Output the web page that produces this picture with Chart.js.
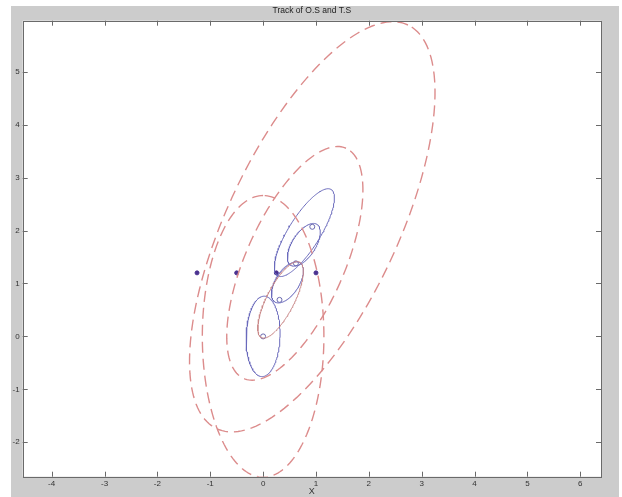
<!DOCTYPE html>
<html><head><meta charset="utf-8">
<script src="https://cdn.jsdelivr.net/npm/chart.js@4"></script>
<style>html,body{margin:0;padding:0;background:#fff}</style>
</head><body>
<canvas id="c" width="622" height="497"></canvas>
<script>
// ---- tick labels ----
const xTicks = [-4, -3, -2, -1, 0, 1, 2, 3, 4, 5, 6];
const yTicks = [-2, -1, 0, 1, 2, 3, 4, 5];

// ---- T.S track (circles) ----
const circleX = [0, 0.31, 0.62, 0.93];
const circleY = [0, 0.69, 1.38, 2.07];

// ---- O.S track (stars) ----
const starX = [-1.25, -0.5, 0.25, 1.0];
const starY = [1.2, 1.2, 1.2, 1.2];

// ---- blue solid ellipses: centre, semi-axes, tilt (deg) ----
const blueCx  = [0.00, 0.46, 0.77, 0.78];
const blueCy  = [0.00, 1.02, 1.73, 1.96];
const blueA   = [0.76, 0.44, 0.46, 0.96];
const blueB   = [0.32, 0.22, 0.22, 0.30];
const blueAng = [88, 57, 57, 58];

// ---- red dashed ellipses: centre, semi-axes, tilt (deg) ----
const redCx   = [0.93, 0.60, 0.00];
const redCy   = [2.07, 1.38, 0.00];
const redA    = [4.22, 2.38, 2.66];
const redB    = [1.61, 0.93, 1.15];
const redAng  = [64.6, 66, 90];

// ---- thin red ellipse ----
const smallRedCx = [0.33], smallRedCy = [0.69], smallRedA = [0.80], smallRedB = [0.26], smallRedAng = [63];

function outline(cx, cy, a, b, angDeg) {
  const t = angDeg * Math.PI / 180, pts = [];
  for (let i = 0; i <= 180; i++) {
    const s = 2 * Math.PI * i / 180;
    pts.push({x: cx + a * Math.cos(s) * Math.cos(t) - b * Math.sin(s) * Math.sin(t),
              y: cy + a * Math.cos(s) * Math.sin(t) + b * Math.sin(s) * Math.cos(t)});
  }
  return pts;
}

const datasets = [];
redCx.forEach((_, i) => datasets.push({
  data: outline(redCx[i], redCy[i], redA[i], redB[i], redAng[i]),
  showLine: true, borderColor: '#dc8c8c', borderWidth: 1.4, borderDash: [11, 6],
  pointRadius: 0, tension: 0, fill: false
}));
smallRedCx.forEach((_, i) => datasets.push({
  data: outline(smallRedCx[i], smallRedCy[i], smallRedA[i], smallRedB[i], smallRedAng[i]),
  showLine: true, borderColor: '#c98888', borderWidth: 1, pointRadius: 0, tension: 0
}));
blueCx.forEach((_, i) => datasets.push({
  data: outline(blueCx[i], blueCy[i], blueA[i], blueB[i], blueAng[i]),
  showLine: true, borderColor: '#6a6abc', borderWidth: 1, pointRadius: 0, tension: 0
}));
datasets.push({
  data: circleX.map((x, i) => ({x, y: circleY[i]})), showLine: false,
  pointStyle: 'circle', pointRadius: 2.5, borderColor: '#6a6ab0', backgroundColor: 'rgba(0,0,0,0)', borderWidth: 1
});
datasets.push({
  data: starX.map((x, i) => ({x, y: starY[i]})), showLine: false,
  pointStyle: 'circle', pointRadius: 2, borderColor: '#4a3290', backgroundColor: '#4a3290', borderWidth: 1
});

const frame = {
  id: 'frame',
  beforeDraw(chart) {
    const {ctx, chartArea: a} = chart;
    ctx.save();
    ctx.fillStyle = '#ffffff'; ctx.fillRect(0, 0, 622, 497);
    ctx.fillStyle = '#cccccc'; ctx.fillRect(11, 6, 608, 491);
    ctx.fillStyle = '#ffffff'; ctx.fillRect(a.left, a.top, a.right - a.left, a.bottom - a.top);
    ctx.restore();
  },
  afterDraw(chart) {
    const {ctx, chartArea: a, scales: {x, y}} = chart;
    ctx.save();
    ctx.strokeStyle = '#6a6a6a'; ctx.lineWidth = 1;
    ctx.strokeRect(Math.round(a.left) + 0.5, Math.round(a.top) + 0.5,
                   Math.round(a.right - a.left), Math.round(a.bottom - a.top));
    ctx.beginPath();
    xTicks.forEach(v => {
      const px = Math.round(x.getPixelForValue(v)) + 0.5;
      ctx.moveTo(px, a.bottom); ctx.lineTo(px, a.bottom - 5);
      ctx.moveTo(px, a.top); ctx.lineTo(px, a.top + 5);
    });
    yTicks.forEach(v => {
      const py = Math.round(y.getPixelForValue(v)) + 0.5;
      ctx.moveTo(a.left, py); ctx.lineTo(a.left + 5, py);
      ctx.moveTo(a.right, py); ctx.lineTo(a.right - 5, py);
    });
    ctx.stroke();
    ctx.restore();
  }
};

new Chart(document.getElementById('c'), {
  type: 'scatter',
  data: {datasets},
  options: {
    responsive: false, animation: false, devicePixelRatio: 1,
    layout: {padding: {left: 0, right: 21, top: 0, bottom: 0}},
    plugins: {
      legend: {display: false}, tooltip: {enabled: false},
      title: {display: true, fullSize: false, text: 'Track of O.S and T.S', color: '#222',
              font: {family: 'Liberation Sans', size: 8.5, weight: 'normal'}, padding: {top: 6, bottom: 4.5}}
    },
    scales: {
      x: {
        type: 'linear', min: -4.548, max: 6.392,
        afterBuildTicks: s => { s.ticks = xTicks.map(v => ({value: v})); },
        afterFit: s => { s.height = 20.3; },
        grid: {display: false, drawTicks: false}, border: {display: false},
        ticks: {color: '#333', font: {family: 'Liberation Sans', size: 8}, padding: 2, maxRotation: 0},
        title: {display: true, text: 'X', color: '#333', font: {family: 'Liberation Sans', size: 9}, padding: 0}
      },
      y: {
        type: 'linear', min: -2.65, max: 5.963,
        afterBuildTicks: s => { s.ticks = yTicks.map(v => ({value: v})); },
        afterFit: s => { s.width = 22.7; },
        grid: {display: false, drawTicks: false}, border: {display: false},
        ticks: {color: '#333', font: {family: 'Liberation Sans', size: 8}, padding: 3}
      }
    }
  },
  plugins: [frame]
});
</script>
</body></html>
